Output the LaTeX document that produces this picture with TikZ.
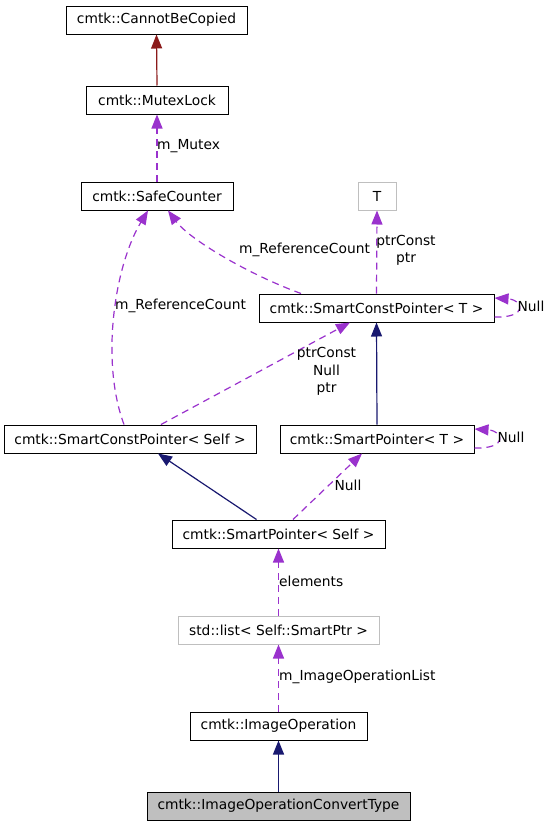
\documentclass[tikz,border=0pt]{standalone}
\usepackage{fontspec}
\setmainfont{DejaVu Sans}
\usetikzlibrary{arrows.meta}
\definecolor{deppurple}{RGB}{154,50,205}
\definecolor{inhnavy}{RGB}{25,25,112}
\definecolor{inhred}{RGB}{139,26,26}
\definecolor{lightbord}{RGB}{191,191,191}
\definecolor{curfill}{RGB}{191,191,191}
\begin{document}
\begin{tikzpicture}[x=1pt,y=-1pt,
  every node/.style={font=\fontsize{13.8}{17.5}\selectfont, inner sep=0pt},
  cls/.style={draw=black, line width=1pt, minimum height=28pt, fill=white},
  extcls/.style={draw=lightbord, line width=1pt, minimum height=28pt, fill=white},
  curcls/.style={draw=black, line width=1pt, minimum height=28pt, fill=curfill},
  lbl/.style={align=center},
  >={Triangle[length=14pt,width=11pt]},
  dep/.style={->, draw=deppurple, line width=1.2pt, dash pattern=on 7pt off 5pt},
  inh/.style={->, draw=inhnavy, line width=1.2pt},
  inhr/.style={->, draw=inhred, line width=1.2pt},
]
\useasboundingbox (0,0) rectangle (549,827);
\fill[white] (0,0) rectangle (549,827);

% nodes
\node[cls, minimum width=181pt] (cbc) at (156.5,20) {cmtk::CannotBeCopied};
\node[cls, minimum width=142pt] (ml) at (157,100) {cmtk::MutexLock};
\node[cls, minimum width=152pt] (sc) at (157,196) {cmtk::SafeCounter};
\node[extcls, minimum width=38pt] (t) at (377,196) {T};
\node[cls, minimum width=235pt] (scpT) at (376.5,308) {cmtk::SmartConstPointer< T >};
\node[cls, minimum width=252pt] (scpS) at (130,439) {cmtk::SmartConstPointer< Self >};
\node[cls, minimum width=194pt] (spT) at (377,439) {cmtk::SmartPointer< T >};
\node[cls, minimum width=213pt] (spS) at (278.5,534) {cmtk::SmartPointer< Self >};
\node[extcls, minimum width=201pt] (lst) at (278.5,630) {std::list< Self::SmartPtr >};
\node[cls, minimum width=177pt] (io) at (278.5,726) {cmtk::ImageOperation};
\node[curcls, minimum width=263pt] (ioct) at (278.5,806) {cmtk::ImageOperationConvertType};

% edges
\draw[inhr] (ml.north) -- (cbc.south);
\draw[dep] (sc.north) -- (ml.south);
\draw[dep] ([xshift=-75.5pt]scpT.north) .. controls (250,275) and (190,240) .. ([xshift=11pt]sc.south);
\draw[dep] ([xshift=-6pt]scpS.north) .. controls (100,360) and (115,265) .. ([xshift=-9pt]sc.south);
\draw[dep] (scpT.north) -- (t.south);
\draw[dep] ([yshift=-9pt]scpT.east) .. controls (528,318) and (524,300) .. ([yshift=10pt]scpT.east);
\draw[dep] ([xshift=31pt]scpS.north) -- ([xshift=-26.5pt]scpT.south);
\draw[inh] (spT.north) -- (scpT.south);
\draw[dep] ([yshift=-9pt]spT.east) .. controls (508,449) and (504,431) .. ([yshift=10pt]spT.east);
\draw[inh] ([xshift=-22pt]spS.north) -- ([xshift=28pt]scpS.south);
\draw[dep] ([xshift=14.5pt]spS.north) -- ([xshift=-15pt]spT.south);
\draw[dep] (lst.north) -- (spS.south);
\draw[dep] (io.north) -- (lst.south);
\draw[inh] (ioct.north) -- (io.south);

% labels
\node[anchor=west] (lmutex) at (157,146) {m\_Mutex};
\node[lbl] (lref1) at (304.5,250) {m\_ReferenceCount};
\node[lbl] (lref2) at (180.5,306) {m\_ReferenceCount};
\node[lbl] (lpc) at (406,250.5) {ptrConst\\ptr};
\node[lbl] (lnull1) at (531,306) {Null};
\node[lbl] (lpnp) at (326.5,371.5) {ptrConst\\Null\\ptr};
\node[lbl] (lnull2) at (511,437) {Null};
\node[lbl] (lnull3) at (348,485) {Null};
\node[anchor=west] (lel) at (279,581) {elements};
\node[anchor=west] (liol) at (279,677) {m\_ImageOperationList};
\end{tikzpicture}
\end{document}
